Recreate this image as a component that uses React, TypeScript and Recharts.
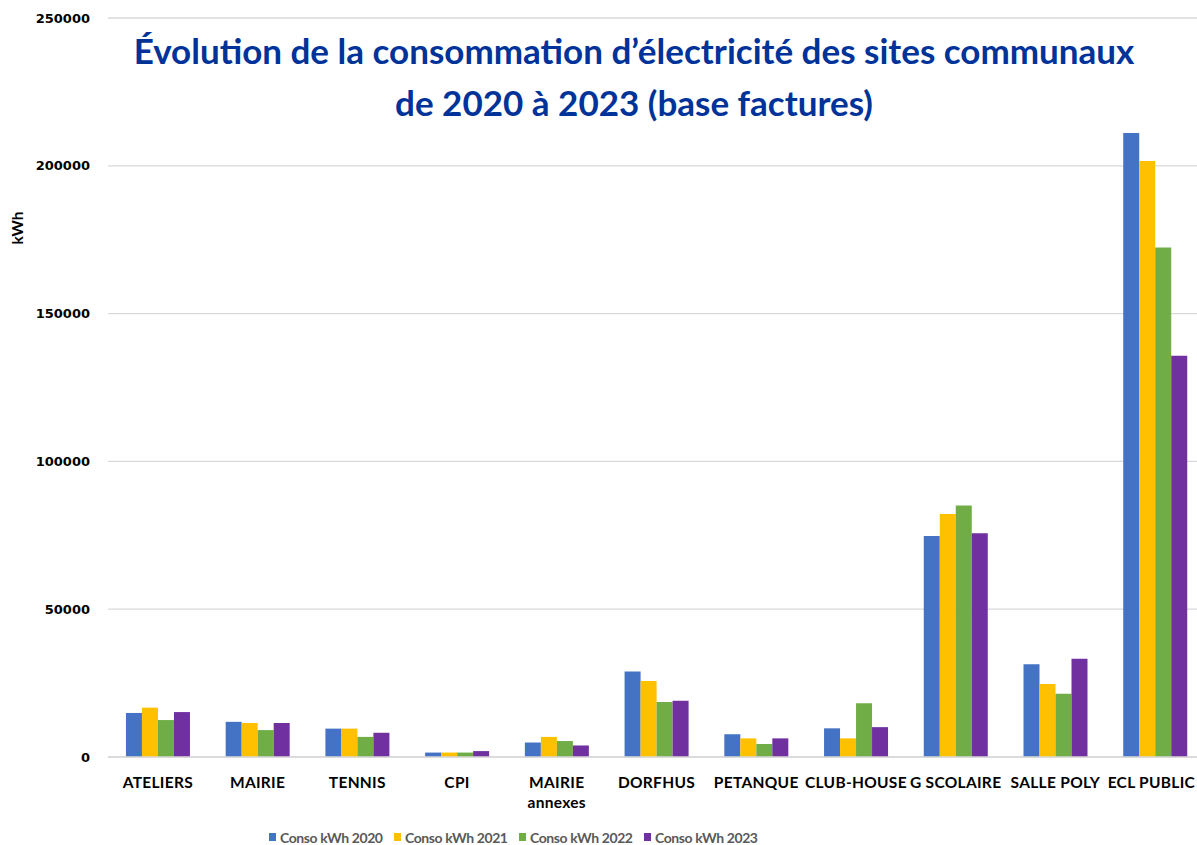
import { BarChart, Bar, XAxis, YAxis, CartesianGrid, Legend } from 'recharts';

const sites = [
  'ATELIERS',
  'MAIRIE',
  'TENNIS',
  'CPI',
  'MAIRIE annexes',
  'DORFHUS',
  'PETANQUE',
  'CLUB-HOUSE',
  'G SCOLAIRE',
  'SALLE POLY',
  'ECL PUBLIC',
];

const conso2020 = [14900, 11900, 9600, 1500, 4900, 28900, 7700, 9700, 74800, 31400, 211100];
const conso2021 = [16700, 11500, 9600, 1500, 6800, 25700, 6300, 6300, 82200, 24700, 201600];
const conso2022 = [12500, 9100, 6800, 1500, 5400, 18600, 4400, 18200, 85100, 21400, 172400];
const conso2023 = [15200, 11500, 8200, 2000, 3900, 19000, 6300, 10100, 75700, 33200, 135700];

const yTicks = [0, 50000, 100000, 150000, 200000, 250000];

const series = [
  { key: 'c2020', name: 'Conso kWh 2020', color: '#4472C4', values: conso2020 },
  { key: 'c2021', name: 'Conso kWh 2021', color: '#FFC000', values: conso2021 },
  { key: 'c2022', name: 'Conso kWh 2022', color: '#70AD47', values: conso2022 },
  { key: 'c2023', name: 'Conso kWh 2023', color: '#7030A0', values: conso2023 },
];

const data = sites.map((site, i) => {
  const row: Record<string, string | number> = { site };
  series.forEach((s) => {
    row[s.key] = s.values[i];
  });
  return row;
});

// category labels, "MAIRIE annexes" wraps onto two lines like the original
function SiteTick({ x, y, payload, index }: any) {
  const wrap = payload.value === 'MAIRIE annexes';
  const shown: string[] = wrap ? String(payload.value).split(' ') : [payload.value];
  // the last label is pushed left so it stays inside the picture
  const last = index === sites.length - 1;
  const tx = last ? x + 40 : x;
  return (
    <text
      x={tx}
      y={y}
      textAnchor={last ? 'end' : 'middle'}
      fill="#000"
      fontFamily="Lato, sans-serif"
      fontWeight={700}
      fontSize={15.5}
      letterSpacing={0.3}
    >
      {shown.map((l, i) => (
        <tspan key={i} x={tx} dy={i === 0 ? 29 : 20}>
          {l}
        </tspan>
      ))}
    </text>
  );
}

function KwhLabel() {
  const x = 23;
  const y = 228;
  return (
    <text
      x={x}
      y={y}
      transform={`rotate(-90, ${x}, ${y})`}
      textAnchor="middle"
      fill="#000"
      fontFamily="Lato, sans-serif"
      fontWeight={700}
      fontSize={15.5}
    >
      kWh
    </text>
  );
}

function LegendRow() {
  return (
    <div style={{ display: 'flex', paddingTop: 24, fontFamily: 'Lato, sans-serif' }}>
      {series.map((s) => (
        <div key={s.key} style={{ display: 'flex', alignItems: 'center', width: 125 }}>
          <span style={{ width: 7, height: 8, background: s.color, marginRight: 4, marginTop: -3 }} />
          <span style={{ color: '#595959', fontWeight: 700, fontSize: 14, lineHeight: '14px', letterSpacing: -0.4 }}>
            {s.name}
          </span>
        </div>
      ))}
    </div>
  );
}

export default function App() {
  return (
    <div
      style={{
        position: 'absolute',
        left: 0,
        top: 0,
        width: 1197,
        height: 845,
        overflow: 'hidden',
        background: '#fff',
      }}
    >
      <BarChart
        width={1210}
        height={845}
        data={data}
        margin={{ top: 18, right: 5, bottom: 0, left: 0 }}
        barCategoryGap="18%"
        barGap={0}
      >
        <CartesianGrid vertical={false} stroke="#d9d9d9" strokeWidth={1.3} />
        <XAxis
          dataKey="site"
          height={50}
          axisLine={{ stroke: '#d9d9d9', strokeWidth: 1.5 }}
          tickLine={false}
          tickSize={0}
          interval={0}
          tick={<SiteTick />}
        />
        <YAxis
          width={108}
          domain={[0, 250000]}
          ticks={yTicks}
          axisLine={false}
          tickLine={false}
          tickSize={0}
          tickMargin={18}
          tick={{ fill: '#000', fontFamily: 'DejaVu Sans, sans-serif', fontWeight: 700, fontSize: 13 }}
          label={<KwhLabel />}
        />
        <Legend
          verticalAlign="bottom"
          height={38}
          content={<LegendRow />}
          wrapperStyle={{ left: 269, width: 520, bottom: 0 }}
        />
        {series.map((s) => (
          <Bar key={s.key} dataKey={s.key} name={s.name} fill={s.color} isAnimationActive={false} />
        ))}
      </BarChart>
      <div
        style={{
          position: 'absolute',
          left: 0,
          top: 24,
          width: 1268,
          textAlign: 'center',
          color: '#003399',
          fontFamily: 'Lato, sans-serif',
          fontWeight: 700,
          fontSize: 35,
          lineHeight: '52px',
        }}
      >
        Évolution de la consommation d’électricité des sites communaux
        <br />
        de 2020 à 2023 (base factures)
      </div>
    </div>
  );
}
